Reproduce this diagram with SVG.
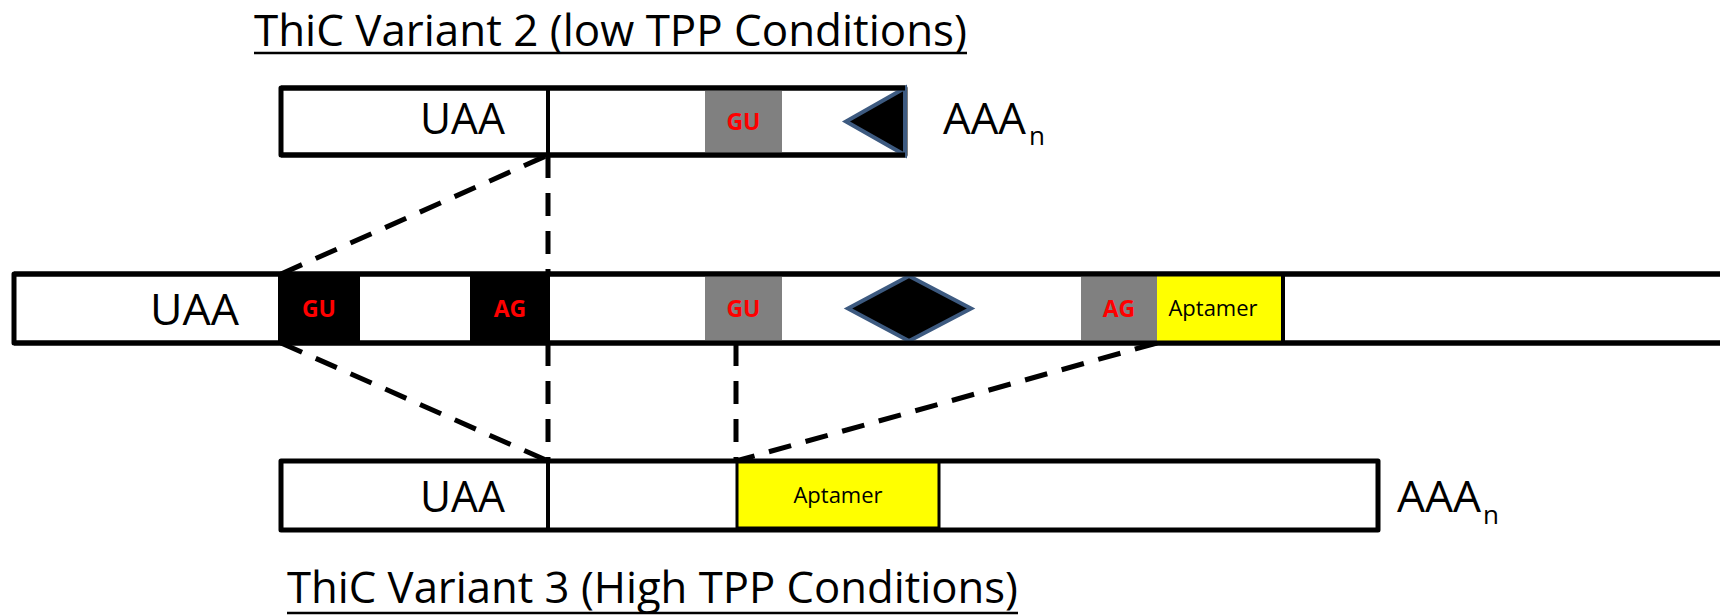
<svg xmlns="http://www.w3.org/2000/svg" width="1720" height="616" viewBox="0 0 1720 616">
<style>
.bar{fill:#fff;stroke:#000;stroke-width:5;stroke-linejoin:round}
.sep{stroke:#000;stroke-width:4}
.dash{stroke:#000;stroke-width:5;stroke-dasharray:23 15;fill:none}
.big{font-family:"Open Sans","Liberation Sans",sans-serif;font-size:44px;fill:#000}
.title{font-family:"Open Sans","Liberation Sans",sans-serif;font-size:43px;fill:#000}
.site{font-family:"Open Sans","Liberation Sans",sans-serif;font-size:23px;font-weight:bold;fill:#ff0000;text-anchor:middle}
.apt{font-family:"Open Sans","Liberation Sans",sans-serif;font-size:22px;fill:#000;text-anchor:middle}
.sub{font-family:"Open Sans","Liberation Sans",sans-serif;font-size:26px;fill:#000}
.gray{fill:#808080}
.blk{fill:#000}
.yel{fill:#ffff00;stroke:#000;stroke-width:3}
.tri{fill:#000;stroke:#3d5a80;stroke-width:4;stroke-linejoin:miter}
</style>
<g id="title-variant2">
<text class="title" x="254" y="46" textLength="713" lengthAdjust="spacingAndGlyphs">ThiC Variant 2 (low TPP Conditions)</text>
<line x1="254" y1="53" x2="967" y2="53" stroke="#000" stroke-width="2.5"/>
</g>
<g id="title-variant3">
<text class="title" x="287" y="603" textLength="731" lengthAdjust="spacingAndGlyphs">ThiC Variant 3 (High TPP Conditions)</text>
<line x1="287" y1="613" x2="1018" y2="613" stroke="#000" stroke-width="2.5"/>
</g>
<g id="connectors">
<line class="dash" x1="281" y1="274" x2="548" y2="155"/>
<line class="dash" x1="548" y1="155" x2="548" y2="274"/>
<line class="dash" x1="281" y1="343" x2="548" y2="461"/>
<line class="dash" x1="548" y1="343" x2="548" y2="461"/>
<line class="dash" x1="736" y1="343" x2="736" y2="461"/>
<line class="dash" x1="1157" y1="343" x2="736" y2="461"/>
</g>
<g id="variant2">
<rect class="bar" x="281" y="88" width="624" height="67"/>
<line class="sep" x1="548" y1="88" x2="548" y2="155"/>
<rect class="gray" x="705" y="88" width="77" height="67"/>
<text class="site" x="743.5" y="130">GU</text>
<polygon class="tri" points="905,88 846,121.5 905,155"/>
<line x1="281" y1="88" x2="905" y2="88" stroke="#000" stroke-width="5"/>
<line x1="281" y1="155" x2="905" y2="155" stroke="#000" stroke-width="5"/>
<text class="big" x="420" y="134" textLength="85" lengthAdjust="spacingAndGlyphs">UAA</text>
<text class="big" x="943" y="134" textLength="83" lengthAdjust="spacingAndGlyphs">AAA</text>
<text class="sub" x="1029" y="145">n</text>
</g>
<g id="pre-mrna">
<rect class="bar" x="14" y="274" width="1720" height="69"/>
<rect class="blk" x="278" y="274" width="82" height="69"/>
<text class="site" x="319" y="317">GU</text>
<rect class="blk" x="470" y="274" width="80" height="69"/>
<text class="site" x="510" y="317">AG</text>
<rect class="gray" x="705" y="276" width="77" height="67"/>
<text class="site" x="743.5" y="317">GU</text>
<polygon class="tri" points="848,308.5 909,276 971,308.5 909,341"/>
<rect class="gray" x="1081" y="276" width="76" height="67"/>
<text class="site" x="1119" y="317">AG</text>
<rect fill="#ffff00" x="1157" y="276" width="126" height="65"/>
<line class="sep" x1="1283" y1="274" x2="1283" y2="343"/>
<text class="apt" x="1213" y="316">Aptamer</text>
<line x1="14" y1="274" x2="1720" y2="274" stroke="#000" stroke-width="5"/>
<line x1="14" y1="343" x2="1720" y2="343" stroke="#000" stroke-width="5"/>
<text class="big" x="150" y="325" textLength="89" lengthAdjust="spacingAndGlyphs">UAA</text>
</g>
<g id="variant3">
<rect class="bar" x="281" y="461" width="1097" height="69"/>
<line class="sep" x1="548" y1="461" x2="548" y2="530"/>
<rect class="yel" x="737" y="462" width="202" height="66"/>
<text class="apt" x="838" y="503">Aptamer</text>
<text class="big" x="420" y="512" textLength="85" lengthAdjust="spacingAndGlyphs">UAA</text>
<text class="big" x="1397" y="512" textLength="84" lengthAdjust="spacingAndGlyphs">AAA</text>
<text class="sub" x="1483" y="524">n</text>
</g>
</svg>
